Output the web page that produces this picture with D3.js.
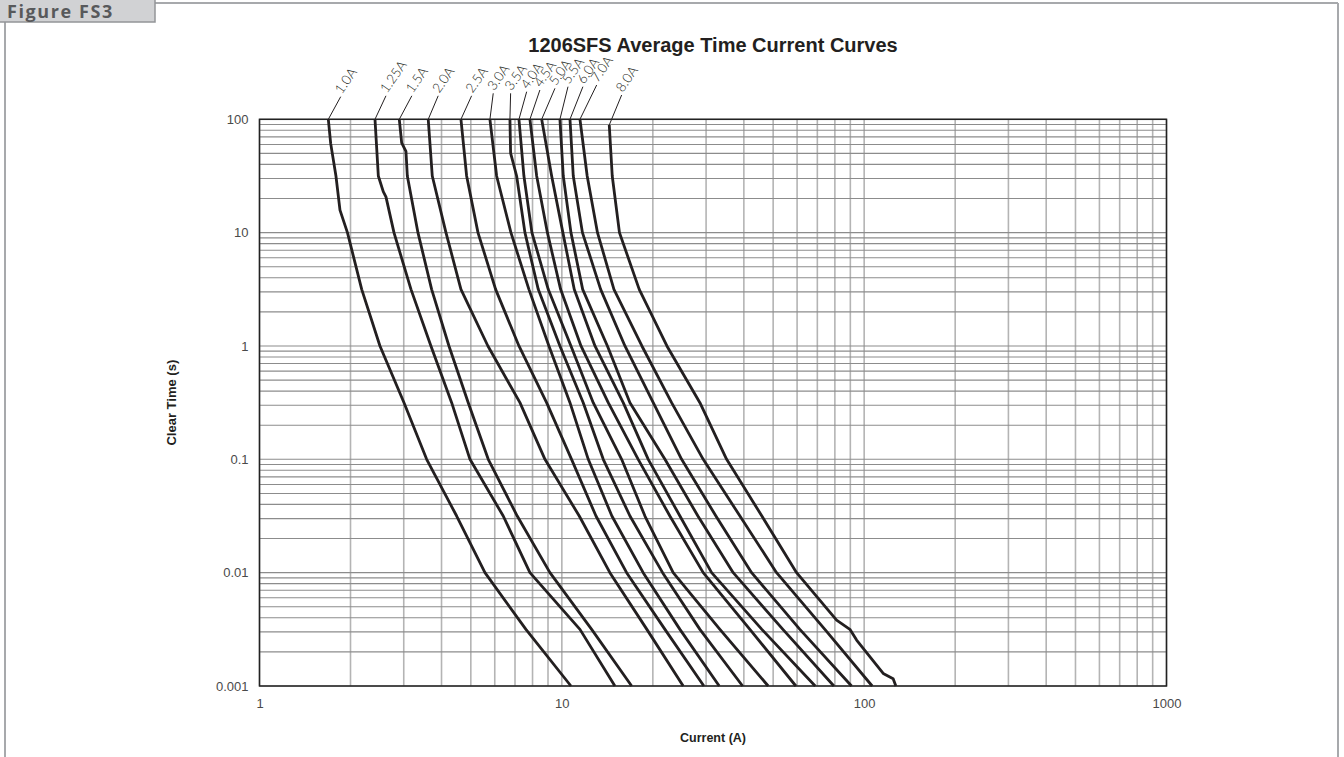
<!DOCTYPE html>
<html><head><meta charset="utf-8">
<script src="https://cdn.jsdelivr.net/npm/d3@7/dist/d3.min.js"></script>
<style>
html,body{margin:0;padding:0;background:#fff;}
svg{display:block;font-family:"Liberation Sans",Arial,sans-serif;}
</style></head>
<body>
<svg id="chart" width="1344" height="757"></svg>
<script>
// ---- data (current A, time s) ----
const ratings = ["1.0A","1.25A","1.5A","2.0A","2.5A","3.0A","3.5A","4.0A","4.5A","5.0A","5.5A","6.0A","7.0A","8.0A"];
const c1_0  = [[1.689,100],[1.72,61],[1.790,31.6],[1.846,15.8],[1.954,10],[2.178,3.16],[2.503,1],[3.006,0.316],[3.572,0.1],[4.489,0.0316],[5.568,0.01],[7.608,0.00316],[10.72,0.001]];
const c1_25 = [[2.410,100],[2.472,31.6],[2.567,23],[2.620,20.7],[2.785,10],[3.170,3.16],[3.690,1],[4.321,0.316],[4.968,0.1],[6.400,0.0316],[7.843,0.01],[11.48,0.00316],[14.98,0.001]];
const c1_5  = [[2.900,100],[2.953,62],[3.051,52],[3.083,31.6],[3.343,10],[3.710,3.16],[4.233,1],[4.903,0.316],[5.710,0.1],[7.120,0.0316],[9.134,0.01],[12.55,0.00316],[17.02,0.001]];
const c2_0  = [[3.615,100],[3.728,31.6],[4.138,10],[4.638,3.16],[5.695,1],[7.269,0.316],[8.794,0.1],[11.42,0.0316],[14.42,0.01],[19.11,0.00316],[25.20,0.001]];
const c2_5  = [[4.638,100],[4.843,31.6],[5.280,10],[6.040,3.16],[7.214,1],[8.905,0.316],[10.77,0.1],[12.97,0.0316],[16.38,0.01],[21.93,0.00316],[29.50,0.001]];
const c3_0  = [[5.783,100],[6.086,31.6],[6.787,10],[7.783,3.16],[9.064,1],[10.64,0.316],[12.23,0.1],[14.64,0.0316],[18.58,0.01],[24.58,0.00316],[33.16,0.001]];
const c3_5  = [[6.735,100],[6.77,50.4],[7.088,31.6],[7.551,10],[8.356,3.16],[9.856,1],[11.77,0.316],[13.71,0.1],[16.80,0.0316],[21.54,0.01],[28.62,0.00316],[39.62,0.001]];
const c4_0  = [[7.214,100],[7.492,31.6],[7.963,10],[9.016,3.16],[10.72,1],[12.70,0.316],[15.77,0.1],[18.83,0.0316],[23.35,0.01],[33.33,0.00316],[48.14,0.001]];
const c4_5  = [[7.843,100],[8.256,31.6],[8.960,10],[9.908,3.16],[11.57,1],[14.24,0.316],[17.89,0.1],[22.77,0.0316],[29.35,0.01],[41.88,0.00316],[59.45,0.001]];
const c5_0  = [[8.577,100],[9.254,31.6],[10.08,10],[10.99,3.16],[12.87,1],[15.96,0.316],[19.31,0.1],[24.58,0.0316],[31.29,0.01],[45.88,0.00316],[68.87,0.001]];
const c5_5  = [[9.856,100],[10.11,31.6],[10.72,10],[11.72,3.16],[14.15,1],[16.80,0.316],[21.93,0.1],[28.19,0.0316],[36.88,0.01],[53.84,0.00316],[79.41,0.001]];
const c6_0  = [[10.64,100],[10.91,31.6],[11.70,10],[13.44,3.16],[16.17,1],[20.06,0.316],[24.90,0.1],[32.33,0.0316],[42.43,0.01],[61.28,0.00316],[90.85,0.001]];
const c7_0  = [[11.48,100],[12.13,31.6],[13.12,10],[14.87,3.16],[18.40,1],[23.07,0.316],[29.35,0.1],[38.82,0.0316],[51.31,0.01],[74.13,0.00316],[106.3,0.001]];
const c8_0  = [[14.35,89.1],[14.68,31.6],[15.51,10],[18.03,3.16],[22.26,1],[28.62,0.316],[35.08,0.1],[45.88,0.0316],[59.77,0.01],[81.05,0.00381],[89.69,0.00316],[94.4,0.00254],[115.6,0.00129],[124.7,0.00116],[127.3,0.001]];
const curves = [c1_0,c1_25,c1_5,c2_0,c2_5,c3_0,c3_5,c4_0,c4_5,c5_0,c5_5,c6_0,c7_0,c8_0];
// label leader end: current value where the label sits
const labelCurrent = [1.856,2.62,3.19,3.90,5.03,5.93,6.77,7.65,8.46,9.49,10.48,11.74,13.04,15.77];
const xTicks = [1,10,100,1000];
const yTicks = [0.001,0.01,0.1,1,10,100];
const yTickLabels = ["0.001","0.01","0.1","1","10","100"];
const title = "1206SFS Average Time Current Curves";
const xTitle = "Current (A)";
const yTitle = "Clear Time (s)";
const figTag = "Figure FS3";

// ---- layout ----
const L = 259.5, R = 1166.5, T = 119.3, B = 686;
const labelRise = [22.6,23.5,23.5,23.5,23.5,26,26,27.6,29.3,31,32.6,32.6,34.3,24.3];

const svg = d3.select("#chart");
const x = d3.scaleLog().domain([1,1000]).range([L,R]);
const y = d3.scaleLog().domain([0.001,100]).range([B,T]);

// outer figure frame
svg.append("line").attr("x1",155).attr("x2",1338).attr("y1",3).attr("y2",3).attr("stroke","#a7a9ac").attr("stroke-width",2);
svg.append("line").attr("x1",1338).attr("x2",1338).attr("y1",3).attr("y2",757).attr("stroke","#a7a9ac").attr("stroke-width",2);
svg.append("line").attr("x1",5).attr("x2",5).attr("y1",22).attr("y2",757).attr("stroke","#a7a9ac").attr("stroke-width",2);
svg.append("rect").attr("x",-2).attr("y",-5).attr("width",157).attr("height",27).attr("fill","#d1d2d4").attr("stroke","#939598").attr("stroke-width",1.5);
svg.append("text").attr("x",7).attr("y",18).attr("font-size",18).attr("font-weight","bold").attr("fill","#58595b")
  .attr("letter-spacing",1.6)
  .attr("font-family","'Open Sans','Liberation Sans',sans-serif").text(figTag);

// grid
const g = svg.append("g");
const vVals = [], hVals = [];
[1,10,100].forEach(d=>{for(let k=1;k<=9;k++) vVals.push(d*k);}); vVals.push(1000);
[0.001,0.01,0.1,1,10].forEach(d=>{for(let k=1;k<=9;k++) hVals.push(d*k);}); hVals.push(100);
g.selectAll(".vg").data(vVals).enter().append("line")
  .attr("x1",d=>x(d)).attr("x2",d=>x(d)).attr("y1",T).attr("y2",B)
  .attr("stroke","#b4b4b4").attr("stroke-width",1.6);
g.selectAll(".hg").data(hVals).enter().append("line")
  .attr("x1",L).attr("x2",R).attr("y1",d=>y(d)).attr("y2",d=>y(d))
  .attr("stroke","#8c8c8c").attr("stroke-width",1.1);
// plot frame
g.append("rect").attr("x",L).attr("y",T).attr("width",R-L).attr("height",B-T)
  .attr("fill","none").attr("stroke","#222").attr("stroke-width",1.5);

// axes
const ax = svg.append("g").attr("transform",`translate(0,${B})`)
  .call(d3.axisBottom(x).tickValues(xTicks).tickFormat(d3.format("d")).tickSize(0).tickPadding(13));
const ay = svg.append("g").attr("transform",`translate(${L},0)`)
  .call(d3.axisLeft(y).tickValues(yTicks).tickFormat((d,i)=>yTickLabels[i]).tickSize(0).tickPadding(11));
[ax,ay].forEach(a=>{a.select(".domain").remove();
  a.selectAll("text").attr("font-size",13).attr("fill","#4a4a4a").attr("font-family","'Liberation Sans',Arial,sans-serif");});

// curves
const line = d3.line().x(d=>x(d[0])).y(d=>y(d[1]));
svg.append("g").selectAll("path").data(curves).enter().append("path")
  .attr("d",line).attr("fill","none").attr("stroke","#231f20").attr("stroke-width",2.8)
  .attr("stroke-linejoin","round");

// labels with leader lines
const lab = svg.append("g");
curves.forEach((c,i)=>{
  const x0 = x(c[0][0]), y0 = y(c[0][1]);
  const x1 = x(labelCurrent[i]), y1 = T - labelRise[i];
  lab.append("line").attr("x1",x0).attr("y1",y0).attr("x2",x1).attr("y2",y1)
    .attr("stroke","#231f20").attr("stroke-width",1);
  lab.append("text").attr("transform",`translate(${x1+1},${y1-2}) rotate(-55)`)
    .attr("font-size",13.5).attr("fill","#231f20").attr("font-weight",300)
    .attr("font-family","Lato,'Liberation Sans',Arial,sans-serif").text(ratings[i]);
});

// titles
svg.append("text").attr("x",(L+R)/2).attr("y",52).attr("text-anchor","middle")
  .attr("font-size",20).attr("font-weight","bold").attr("fill","#231f20").text(title);
svg.append("text").attr("x",(L+R)/2).attr("y",742).attr("text-anchor","middle")
  .attr("font-size",12.5).attr("font-weight","bold").attr("fill","#231f20").text(xTitle);
svg.append("text").attr("transform",`translate(176,${(T+B)/2}) rotate(-90)`).attr("text-anchor","middle")
  .attr("font-size",13).attr("font-weight","bold").attr("fill","#231f20").text(yTitle);
</script>
</body></html>
